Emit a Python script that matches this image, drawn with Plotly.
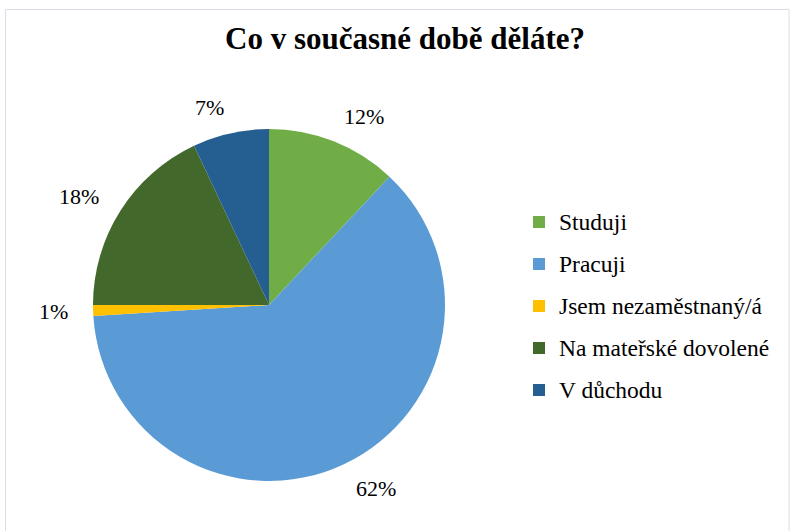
import math
import plotly.graph_objects as go

categories = ["Studuji", "Pracuji", "Jsem nezaměstnaný/á", "Na mateřské dovolené", "V důchodu"]
values = [12, 62, 1, 18, 7]
colors = ["#70AD47", "#5B9BD5", "#FFC000", "#43682B", "#255E91"]

W, H = 790, 531
FONT = "Liberation Serif"

# pie domain in paper fractions (margins are zero)
dom_x = [93 / W, 445 / W]
dom_y = [1 - 481 / H, 1 - 129 / H]

legend_labels = [
    f'<span style="font-size:23.5px;baseline-shift:4px">{c}</span>' for c in categories
]

fig = go.Figure()
fig.add_trace(go.Pie(
    labels=legend_labels,
    values=values,
    sort=False,
    direction="clockwise",
    rotation=0,
    marker=dict(colors=colors, line=dict(width=0)),
    textinfo="none",
    hoverinfo="label+percent",
    domain=dict(x=dom_x, y=dom_y),
))

# percentage labels placed outside each slice, derived from the data
cx = (dom_x[0] + dom_x[1]) / 2 * W
cy = (1 - (dom_y[0] + dom_y[1]) / 2) * H
R = (dom_x[1] - dom_x[0]) * W / 2
total = sum(values)
annotations = []
cum = 0
for v in values:
    mid = (cum + v / 2) / total * 2 * math.pi
    cum += v
    s, c = math.sin(mid), math.cos(mid)
    px = cx + 1.13 * R * s
    py = cy - 1.15 * R * c
    annotations.append(dict(
        x=px / W, y=1 - py / H, xref="paper", yref="paper",
        text=f"{round(v / total * 100)}%", showarrow=False,
        xanchor="left" if s > 0.05 else ("right" if s < -0.05 else "center"),
        yanchor="middle",
        font=dict(family=FONT, size=22, color="#000000"),
    ))

fig.update_layout(
    width=W, height=H,
    margin=dict(l=0, r=0, t=0, b=0),
    paper_bgcolor="#FFFFFF",
    plot_bgcolor="#FFFFFF",
    title=dict(
        text="<b>Co v současné době děláte?</b>",
        x=405 / W, xanchor="center", xref="paper",
        y=1 - 38 / H, yanchor="middle", yref="paper",
        font=dict(family=FONT, size=31, color="#000000"),
    ),
    showlegend=True,
    legend=dict(
        x=519 / W, xanchor="left",
        y=1 - 306 / H, yanchor="middle",
        font=dict(family=FONT, size=30, color="#000000"),
        bgcolor="rgba(0,0,0,0)",
    ),
    annotations=annotations,
    shapes=[dict(
        type="rect", xref="paper", yref="paper",
        x0=5.5 / W, x1=789 / W, y0=-0.05, y1=1 - 9.5 / H,
        line=dict(color="#D9DEE6", width=1), fillcolor="rgba(0,0,0,0)",
        layer="below",
    )],
)

fig.write_html(
    "out.html",
    config={"displayModeBar": False},
    post_script="document.body.style.margin='0';document.body.style.overflow='hidden';",
)
